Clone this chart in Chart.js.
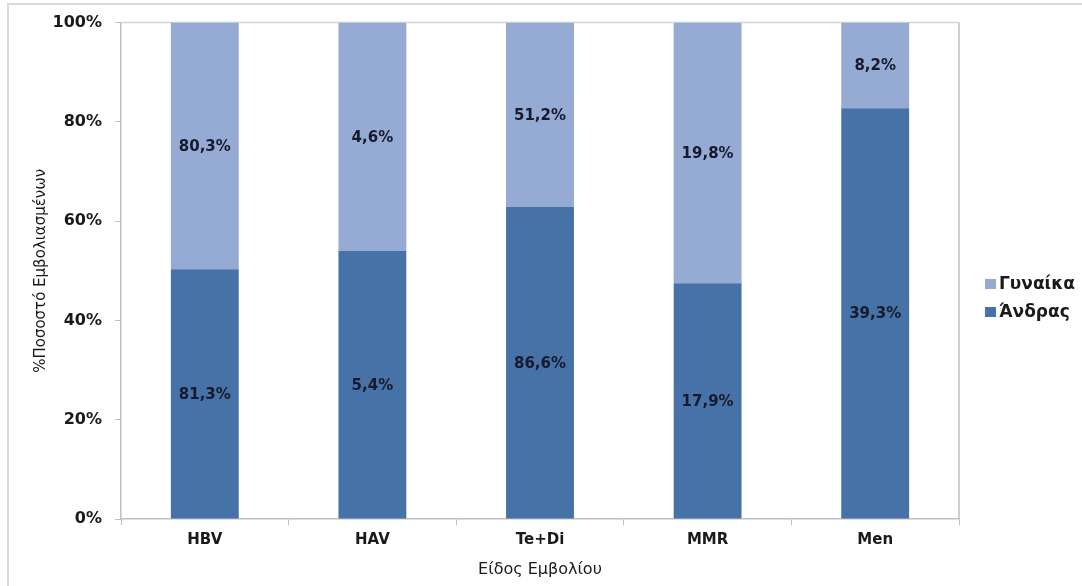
<!DOCTYPE html>
<html>
<head>
<meta charset="utf-8">
<script src="https://cdn.jsdelivr.net/npm/chart.js@4/dist/chart.umd.min.js"></script>
<style>
  html, body { margin: 0; padding: 0; background: #fff; }
  #wrap { position: relative; width: 1082px; height: 586px; }
  #frame { position: absolute; left: 7px; top: 3px; right: 0; bottom: 0;
           border-top: 2px solid #d9d9d9; border-left: 2px solid #d9d9d9; }
  canvas { position: absolute; left: 0; top: 0; }
</style>
</head>
<body>
<div id="wrap">
  <div id="frame"></div>
  <canvas id="vaccChart" width="1082" height="586"></canvas>
</div>
<script>
'use strict';

const categories = ['HBV', 'HAV', 'Te+Di', 'MMR', 'Men'];
const menValues = [81.3, 5.4, 86.6, 17.9, 39.3];
const womenValues = [80.3, 4.6, 51.2, 19.8, 8.2];
const yTicks = [0, 20, 40, 60, 80, 100];

const FONT = '"DejaVu Sans", sans-serif';

const colors = {
    men: '#4672a8',
    women: '#95abd3',
    axis: '#bfbfbf',
    label: '#171a2e',
    text: '#1a1a1a'
};

// 100% stacked: each column is normalised to its own total
const share = (a, b) => a.map((v, i) => v / (v + b[i]) * 100);
const fmt = v => v.toFixed(1).replace('.', ',') + '%';

const barLabels = {
    id: 'barLabels',
    afterDatasetsDraw(chart) {
        const ctx = chart.ctx;
        ctx.save();
        ctx.font = 'bold 15px ' + FONT;
        ctx.fillStyle = colors.label;
        ctx.textAlign = 'center';
        ctx.textBaseline = 'middle';
        chart.data.datasets.forEach((ds, di) => {
            chart.getDatasetMeta(di).data.forEach((bar, i) => {
                const mid = (bar.y + bar.base) / 2;
                ctx.fillText(fmt(ds.raw[i]), bar.x, mid + 1);
            });
        });
        ctx.restore();
    }
};

const plotFrame = {
    id: 'plotFrame',
    beforeDatasetsDraw(chart) {
        const { ctx, chartArea: a } = chart;
        ctx.save();
        ctx.lineWidth = 1.5;
        ctx.strokeStyle = '#d4d4d4';
        ctx.beginPath();
        ctx.moveTo(a.left, a.top);
        ctx.lineTo(a.right, a.top);
        ctx.stroke();
        ctx.strokeStyle = colors.axis;
        ctx.beginPath();
        ctx.moveTo(a.right, a.top);
        ctx.lineTo(a.right, a.bottom);
        ctx.stroke();
        ctx.restore();
    }
};

const sideLegend = {
    id: 'sideLegend',
    afterDraw(chart) {
        const ctx = chart.ctx;
        const items = [
            { text: 'Γυναίκα', color: colors.women, y: 284 },
            { text: 'Άνδρας', color: colors.men, y: 312 }
        ];
        ctx.save();
        ctx.font = 'bold 17px ' + FONT;
        ctx.textBaseline = 'middle';
        items.forEach(it => {
            ctx.fillStyle = it.color;
            ctx.fillRect(985, it.y - 5, 11, 10);
            ctx.fillStyle = colors.text;
            ctx.fillText(it.text, 999, it.y + 1);
        });
        ctx.restore();
    }
};

new Chart(document.getElementById('vaccChart'), {
    type: 'bar',
    data: {
        labels: categories,
        datasets: [{
            label: 'Άνδρας',
            data: share(menValues, womenValues),
            raw: menValues,
            backgroundColor: colors.men,
            barPercentage: 0.405,
            categoryPercentage: 1
        }, {
            label: 'Γυναίκα',
            data: share(womenValues, menValues),
            raw: womenValues,
            backgroundColor: colors.women,
            barPercentage: 0.405,
            categoryPercentage: 1
        }]
    },
    options: {
        responsive: false,
        animation: false,
        layout: { padding: { left: 24, top: 20, right: 123, bottom: 0 } },
        plugins: {
            legend: { display: false },
            tooltip: { enabled: false }
        },
        scales: {
            x: {
                stacked: true,
                afterFit(scale) { scale.height = 67; },
                grid: { drawOnChartArea: false, color: colors.axis, tickLength: 6 },
                border: { color: colors.axis, width: 1.5 },
                ticks: { color: colors.text, padding: 6, font: { family: 'DejaVu Sans', size: 15, weight: 'bold' } },
                title: {
                    display: true,
                    text: 'Είδος Εμβολίου',
                    color: colors.text,
                    padding: { top: 2, bottom: 7 },
                    font: { family: 'DejaVu Sans', size: 16 }
                }
            },
            y: {
                stacked: true,
                min: 0,
                max: 100,
                afterFit(scale) { scale.width = 97; },
                afterBuildTicks(scale) { scale.ticks = yTicks.map(v => ({ value: v })); },
                grid: { drawOnChartArea: false, color: colors.axis, tickLength: 6 },
                border: { color: colors.axis, width: 1.5 },
                ticks: {
                    color: colors.text,
                    padding: 13,
                    callback: v => v + '%',
                    font: { family: 'DejaVu Sans', size: 16, weight: 'bold' }
                },
                title: {
                    display: true,
                    text: '%Ποσοστό Εμβολιασμένων',
                    color: colors.text,
                    padding: { top: 8, bottom: 4 },
                    font: { family: 'DejaVu Sans', size: 15 }
                }
            }
        }
    },
    plugins: [plotFrame, barLabels, sideLegend]
});
</script>
</body>
</html>
